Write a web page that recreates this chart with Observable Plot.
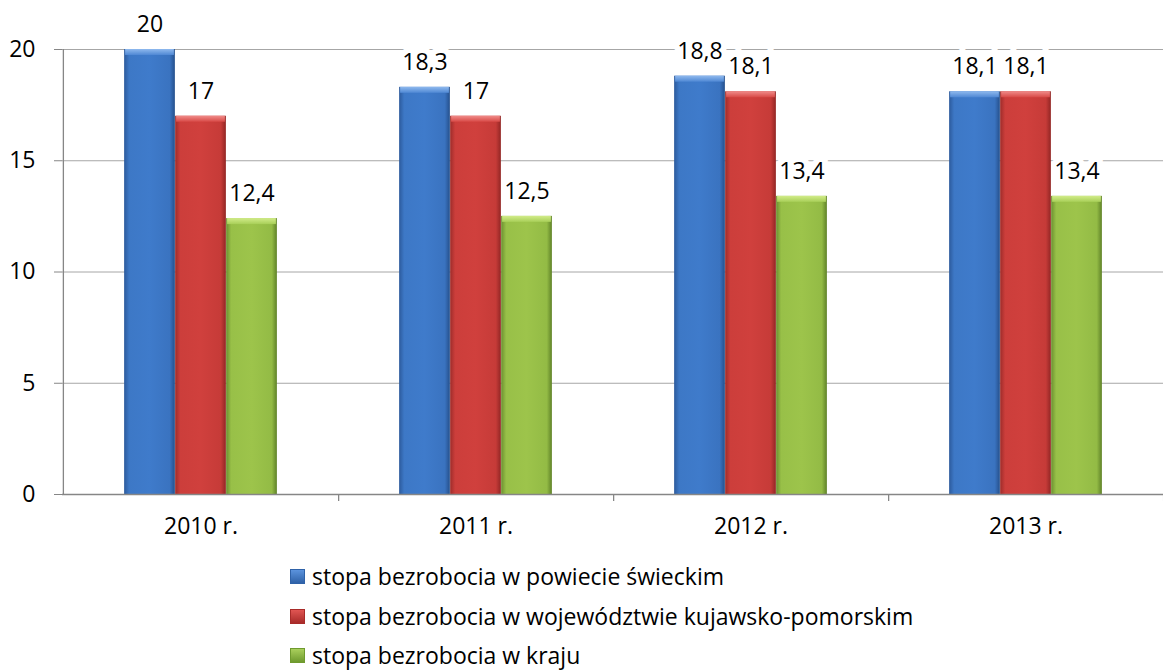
<!DOCTYPE html>
<html><head><meta charset="utf-8">
<script src="https://cdn.jsdelivr.net/npm/d3@7"></script>
<script src="https://cdn.jsdelivr.net/npm/@observablehq/plot@0.6"></script>
<style>
html,body{margin:0;padding:0;background:#fff;}
body{width:1163px;height:670px;overflow:hidden;position:relative;font-family:"Open Sans",sans-serif;}
#chart{position:absolute;left:0;top:0;}
.lg{position:absolute;left:290px;height:20px;display:flex;align-items:center;font-size:23px;color:#000;white-space:nowrap;}
.sw{width:15px;height:15px;margin-right:7px;box-sizing:border-box;flex:none;}
</style></head><body><div id="chart"></div><div id="legend"></div>
<script>
const years = ["2010 r.", "2011 r.", "2012 r.", "2013 r."];
const seriesNames = [
  "stopa bezrobocia w powiecie świeckim",
  "stopa bezrobocia w województwie kujawsko-pomorskim",
  "stopa bezrobocia w kraju"
];
const powiat = [20, 18.3, 18.8, 18.1];
const wojewodztwo = [17, 17, 18.1, 18.1];
const kraj = [12.4, 12.5, 13.4, 13.4];
const yTicks = [0, 5, 10, 15, 20];

const seriesValues = [powiat, wojewodztwo, kraj];
const gradIds = ["gBlue", "gRed", "gGreen"];
const topIds = ["tBlue", "tRed", "tGreen"];
const legendColors = [["#5b93dd","#2f62a8"],["#e05552","#a82b29"],["#a9cf5c","#6f9a2e"]];

const W = 1163, H = 545, ML = 62, MR = 0, MT = 49, MB = 51;
const bw = (W - ML - MR) / years.length;
const barW = 51;
const inset = (bw - barW) / 2;
const offsets = [-barW, 0, barW];
const FS = 23;

const rows = seriesValues.map((vals, s) => years.map((yr, i) => ({year: yr, value: vals[i], s})));
const fmt = v => String(v).replace(".", ",");
const pxPerUnit = (H - MT - MB) / 20;

const marks = [
  Plot.ruleY(yTicks.filter(t => t > 0), {stroke: "#a6a6a6", strokeWidth: 1}),
];
rows.forEach((r, s) => {
  marks.push(Plot.text(r, {x: "year", y: "value", text: d => fmt(d.value), dx: offsets[s], dy: -25,
    fill: "white", stroke: "white", strokeWidth: 12, strokeLinejoin: "miter", fontSize: FS}));
});
rows.forEach((r, s) => {
  marks.push(Plot.barY(r, {x: "year", y: "value", dx: offsets[s], insetLeft: inset, insetRight: inset,
    fill: `url(#${gradIds[s]})`}));
  marks.push(Plot.barY(r, {x: "year", y1: d => d.value - 6 / pxPerUnit, y2: "value", dx: offsets[s],
    insetLeft: inset + 1, insetRight: inset + 1, fill: `url(#${topIds[s]})`}));
});
rows.forEach((r, s) => {
  marks.push(Plot.text(r, {x: "year", y: "value", text: d => fmt(d.value), dx: offsets[s], dy: -25,
    fill: "black", fontSize: FS}));
});
marks.push(Plot.ruleY([0], {stroke: "#868686", strokeWidth: 1.3}));
marks.push(Plot.ruleX([years[0]], {dx: -bw / 2, y1: 0, y2: 20, stroke: "#868686", strokeWidth: 1.3}));
marks.push(Plot.ruleX(years, {dx: bw / 2, y1: 0, y2: -7 / pxPerUnit, stroke: "#868686", strokeWidth: 1.3}));
marks.push(Plot.axisY({ticks: yTicks, tickSize: 8, tickPadding: 19, stroke: "#868686", fontSize: FS, fill: "black"}));
marks.push(Plot.axisX({tickSize: 0, tickPadding: 23, fontSize: FS, fill: "black"}));

const chart = Plot.plot({
  width: W, height: H,
  marginLeft: ML, marginRight: MR, marginTop: MT, marginBottom: MB,
  style: {fontFamily: "Open Sans, sans-serif", fontSize: FS + "px", color: "black", background: "white", overflow: "visible"},
  x: {domain: years, padding: 0, label: null},
  y: {domain: [0, 20], label: null},
  marks
});

const defs = `<defs>
<linearGradient id="gBlue" x1="0" x2="1" y1="0" y2="0">
 <stop offset="0" stop-color="#2c5a9c"/><stop offset="0.1" stop-color="#3d78c6"/><stop offset="0.5" stop-color="#3f7bcb"/><stop offset="0.9" stop-color="#3a73c0"/><stop offset="1" stop-color="#25508c"/></linearGradient>
<linearGradient id="gRed" x1="0" x2="1" y1="0" y2="0">
 <stop offset="0" stop-color="#9e2c2a"/><stop offset="0.1" stop-color="#cc3e3b"/><stop offset="0.5" stop-color="#d0403d"/><stop offset="0.9" stop-color="#c63b38"/><stop offset="1" stop-color="#922624"/></linearGradient>
<linearGradient id="gGreen" x1="0" x2="1" y1="0" y2="0">
 <stop offset="0" stop-color="#6c9030"/><stop offset="0.1" stop-color="#98c048"/><stop offset="0.5" stop-color="#9dc44b"/><stop offset="0.9" stop-color="#93bb45"/><stop offset="1" stop-color="#5f8228"/></linearGradient>
<linearGradient id="tBlue" x1="0" x2="0" y1="0" y2="1"><stop offset="0" stop-color="#8fb9ee"/><stop offset="1" stop-color="#4f88d4"/></linearGradient>
<linearGradient id="tRed" x1="0" x2="0" y1="0" y2="1"><stop offset="0" stop-color="#f08c8a"/><stop offset="1" stop-color="#d84a47"/></linearGradient>
<linearGradient id="tGreen" x1="0" x2="0" y1="0" y2="1"><stop offset="0" stop-color="#d2ec8a"/><stop offset="1" stop-color="#a8cf58"/></linearGradient>
</defs>`;
chart.insertAdjacentHTML("afterbegin", defs);
document.getElementById("chart").appendChild(chart);

const legend = document.getElementById("legend");
const tops = [566, 606, 645];
seriesNames.forEach((name, s) => {
  const row = document.createElement("div");
  row.className = "lg";
  row.style.top = tops[s] + "px";
  const sw = document.createElement("div");
  sw.className = "sw";
  sw.style.background = `linear-gradient(to bottom, ${legendColors[s][0]}, ${legendColors[s][1]})`;
  sw.style.border = `1px solid ${legendColors[s][1]}`;
  const t = document.createElement("span");
  t.textContent = name;
  row.appendChild(sw); row.appendChild(t);
  legend.appendChild(row);
});
</script>
</body></html>
